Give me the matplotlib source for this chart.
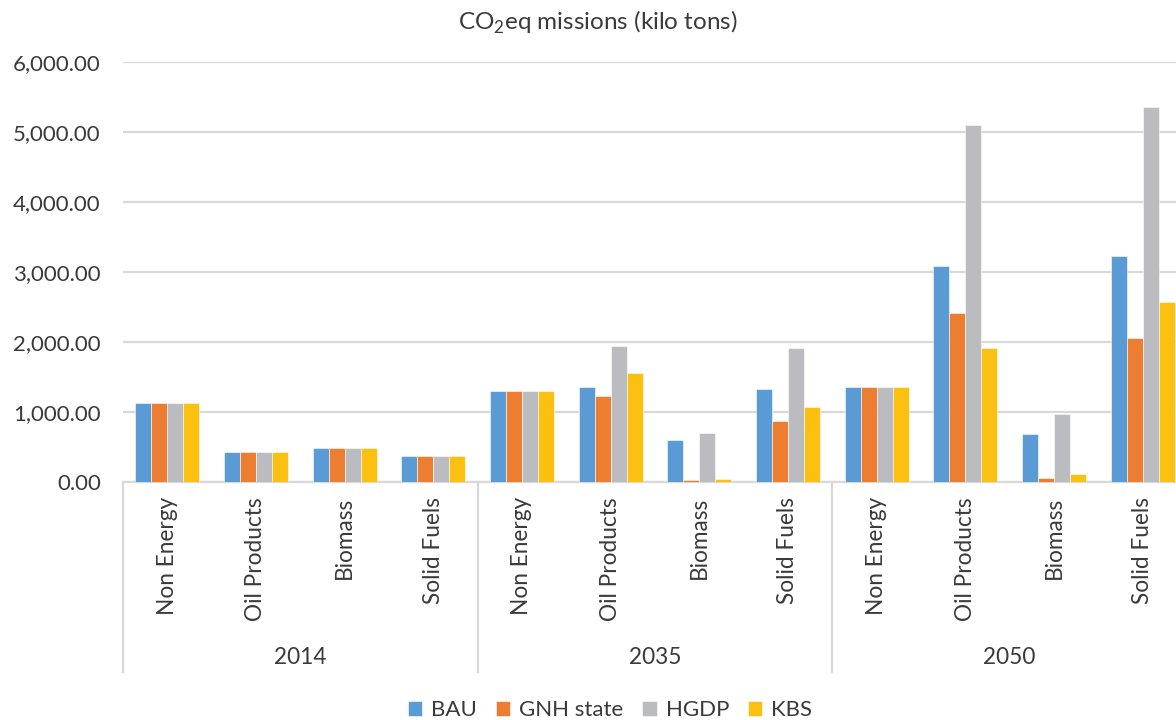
import numpy as np
import matplotlib
matplotlib.use("Agg")
from matplotlib import pyplot as plt
from matplotlib import transforms

# data
years = ["2014", "2035", "2050"]
fuels = ["Non Energy", "Oil Products", "Biomass", "Solid Fuels"]
series = ["BAU", "GNH state", "HGDP", "KBS"]

bau = [1125, 424, 481, 376, 1300, 1352, 595, 1324, 1362, 3081, 686, 3229]
gnh = [1125, 424, 481, 376, 1300, 1229, 28, 867, 1362, 2419, 62, 2062]
hgdp = [1125, 424, 481, 376, 1300, 1938, 700, 1914, 1362, 5095, 971, 5357]
kbs = [1125, 424, 481, 376, 1300, 1562, 43, 1071, 1362, 1914, 110, 2571]

colors = ["#5B9BD5", "#ED7D31", "#BBBCC0", "#FCC010"]
txt = "#3A3A3A"
grid = "#D9D9D9"

plt.rcParams['font.family'] = ['Lato', 'DejaVu Sans']
plt.rcParams['mathtext.fontset'] = 'custom'
plt.rcParams['mathtext.rm'] = 'Lato'

W, H = 1176, 720
fig = plt.figure(figsize=(W/100, H/100), dpi=100)

# plot area in pixels (right edge runs a bit past the picture)
left, right, top, bottom = 123, 1187, 62, 482
ax = fig.add_axes([left/W, 1-bottom/H, (right-left)/W, (bottom-top)/H])

n = len(years) * len(fuels)
x = np.arange(n)
bw = 0.181
for i, (vals, c, name) in enumerate(zip([bau, gnh, hgdp, kbs], colors, series)):
    ax.bar(x + (i-1.5)*bw, vals, bw, color=c, label=name, edgecolor="white", linewidth=0.4, zorder=3)

ax.set_xlim(-0.5, n-0.5)
ax.set_ylim(0, 6000)
ax.set_yticks(np.arange(0, 6001, 1000))
ax.set_yticklabels([f"{v:,.2f}" for v in np.arange(0, 6001, 1000)])
ax.yaxis.grid(True, color=grid, linewidth=1.6, zorder=0)
ax.tick_params(axis='y', length=0, pad=16, labelsize=16, labelcolor=txt)
ax.set_xticks([])
for s in ["left", "right", "top"]:
    ax.spines[s].set_visible(False)
ax.spines["bottom"].set_color(grid)
ax.spines["bottom"].set_linewidth(1.6)

ph = bottom - top
trans = transforms.blended_transform_factory(ax.transData, ax.transAxes)

# category labels, rotated
for k in range(n):
    ax.text(k, -(497-bottom)/ph, fuels[k % 4], rotation=90, ha="center", va="top",
            fontsize=16.3, color=txt, transform=trans)

# year labels and group separators
for j, yr in enumerate(years):
    ax.text(j*4+1.5, -(657-bottom)/ph, yr, ha="center", va="center",
            fontsize=16.3, color=txt, transform=trans)
for sx in [-0.5, 3.5, 7.5, 11.5]:
    ax.plot([sx, sx], [0, -(672-bottom)/ph], color=grid, linewidth=1.6,
            transform=trans, clip_on=False)

fig.text(598/W, 1-22/H, r"CO$_2$eq missions (kilo tons)", ha="center", va="center",
         fontsize=17.5, color=txt)

fig.legend(loc="center", bbox_to_anchor=(610/W, 1-710/H), ncol=4, frameon=False,
           fontsize=16, labelcolor=txt, handlelength=0.65, handleheight=0.65,
           handletextpad=0.4, columnspacing=0.85)

fig.savefig("out.png", dpi=100)
